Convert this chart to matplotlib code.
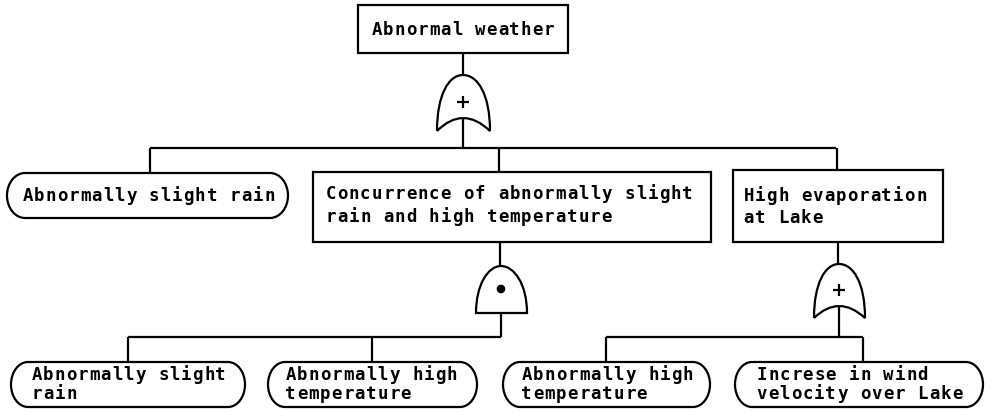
#!/usr/bin/env python
# fault tree: abnormal weather
import matplotlib
matplotlib.use('Agg')
import matplotlib.pyplot as plt
from matplotlib.path import Path
from matplotlib.patches import PathPatch, Rectangle, Circle

# labels of the events (one list per tier)
top_label = ["Abnormal weather"]
mid_labels = [["Abnormally slight rain"],
              ["Concurrence of abnormally slight", "rain and high temperature"],
              ["High evaporation", "at Lake"]]
low_labels = [["Abnormally slight", "rain"],
              ["Abnormally high", "temperature"],
              ["Abnormally high", "temperature"],
              ["Increse in wind", "velocity over Lake"]]
gate_kinds = ["or", "and", "or"]

LW = 1.6
PITCH = 11.5
FS = 12.5

fig = plt.figure(figsize=(9.85, 4.11), dpi=100)
ax = fig.add_axes([0, 0, 1, 1])
ax.set_xlim(0, 985)
ax.set_ylim(411, 0)
ax.axis('off')

def line(xs, ys):
    ax.plot(xs, ys, color='black', lw=LW, solid_capstyle='butt')

def text_line(x0, y, s):
    # typewriter-like fixed pitch
    for i, ch in enumerate(s):
        if ch == ' ':
            continue
        ax.text(x0 + (i + 0.5) * PITCH, y, ch, ha='center', va='center',
                family='DejaVu Sans Mono', weight='bold', fontsize=FS)

def rect(x0, y0, x1, y1):
    ax.add_patch(Rectangle((x0, y0), x1 - x0, y1 - y0, fill=False, lw=LW, ec='black'))

def rounded(x0, y0, x1, y1, a=17):
    b = (y1 - y0) / 2.0
    ym = (y0 + y1) / 2.0
    k = 0.5523
    verts = [(x0 + a, y0), (x1 - a, y0),
             (x1 - a + k * a, y0), (x1, ym - k * b), (x1, ym),
             (x1, ym + k * b), (x1 - a + k * a, y1), (x1 - a, y1),
             (x0 + a, y1),
             (x0 + a - k * a, y1), (x0, ym + k * b), (x0, ym),
             (x0, ym - k * b), (x0 + a - k * a, y0), (x0 + a, y0)]
    codes = [Path.MOVETO, Path.LINETO] + [Path.CURVE4] * 6 + [Path.LINETO] + [Path.CURVE4] * 6
    ax.add_patch(PathPatch(Path(verts, codes), fill=False, lw=LW, ec='black'))

def or_gate(cx, top, left, right, tip, conc):
    verts = [(left, tip), (left, top + (tip - top) * 0.35), (cx - (cx - left) * 0.55, top), (cx, top),
             (cx + (right - cx) * 0.55, top), (right, top + (tip - top) * 0.35), (right, tip),
             (cx, 2 * conc - tip), (left, tip)]
    codes = [Path.MOVETO] + [Path.CURVE4] * 6 + [Path.CURVE3] * 2
    ax.add_patch(PathPatch(Path(verts, codes), fill=False, lw=LW, ec='black'))
    py = top + (conc - top) * 0.63
    line([cx - 6, cx + 6], [py, py])
    line([cx, cx], [py - 6, py + 6])

def and_gate(cx, top, left, right, bot):
    verts = [(left, bot), (left, top + 18), (cx - (cx - left) * 0.5, top), (cx, top),
             (cx + (right - cx) * 0.5, top), (right, top + 18), (right, bot), (left, bot)]
    codes = [Path.MOVETO] + [Path.CURVE4] * 6 + [Path.CLOSEPOLY]
    ax.add_patch(PathPatch(Path(verts, codes), fill=False, lw=LW, ec='black'))
    ax.add_patch(Circle((cx, top + 23), 3.6, color='black'))

# top event
rect(358, 5, 568, 53)
n = len(top_label[0])
text_line(463 - n * PITCH / 2, 30, top_label[0])
line([463, 463], [53, 76])
or_gate(463, 75, 437, 490, 131, 118)
line([463, 463], [118, 148])

# first tier
line([150, 836], [148, 148])
line([150, 150], [148, 173])
line([499, 499], [148, 172])
line([837, 837], [148, 170])

rounded(7, 173, 288, 218, a=18)
text_line(22, 196, mid_labels[0][0])

rect(313, 172, 711, 242)
for j, s in enumerate(mid_labels[1]):
    text_line(325, 194 + 23 * j, s)

rect(733, 170, 943, 242)
for j, s in enumerate(mid_labels[2]):
    text_line(743, 196 + 22 * j, s)

# AND gate branch
line([500, 500], [242, 266])
and_gate(501, 266, 476, 527, 313)
line([501, 501], [313, 337])
line([128, 501], [337, 337])
line([128, 128], [337, 362])
line([372, 372], [337, 362])

# OR gate branch
line([838, 838], [242, 264])
or_gate(839, 264, 814, 865, 318, 306)
line([839, 839], [306, 337])
line([606, 863], [337, 337])
line([606, 606], [337, 362])
line([863, 863], [337, 361])

# bottom tier
low_boxes = [(11, 245, 31), (268, 477, 285), (503, 710, 521), (735, 983, 756)]
for (x0, x1, tx), lab in zip(low_boxes, low_labels):
    rounded(x0, 362, x1, 407, a=17)
    for j, s in enumerate(lab):
        text_line(tx, 375 + 19 * j, s)

fig.savefig('out.png', dpi=100)
